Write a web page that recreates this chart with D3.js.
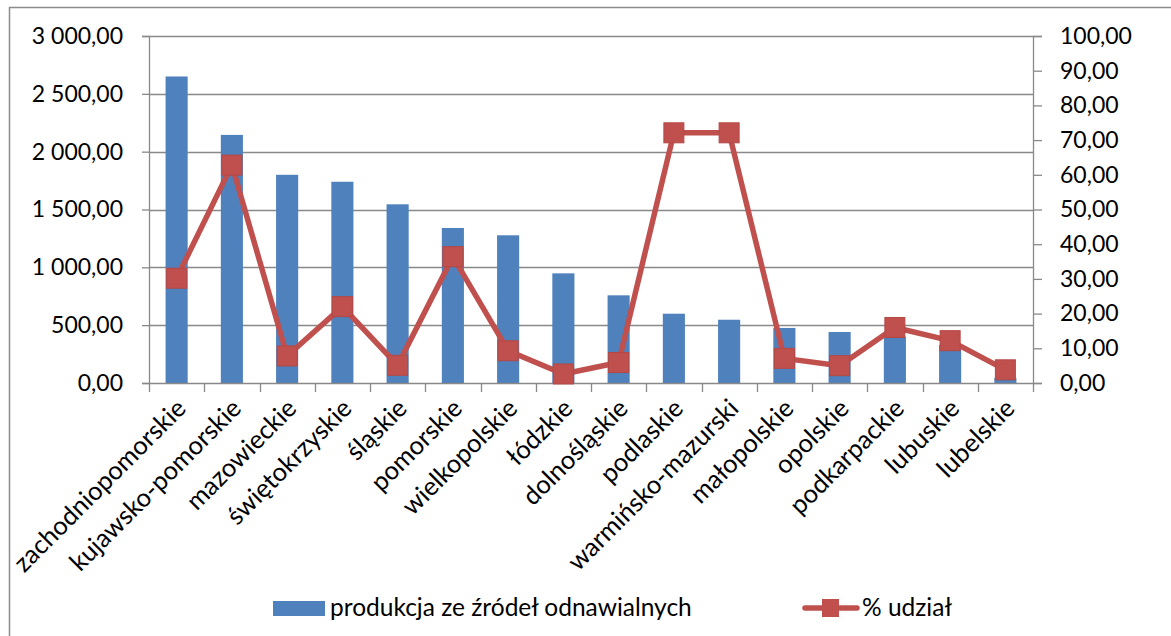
<!DOCTYPE html>
<html><head><meta charset="utf-8">
<script src="https://cdn.jsdelivr.net/npm/d3@7"></script>
<style>
html,body{margin:0;padding:0;background:#fff;}
svg{display:block;font-family:Lato,"Open Sans",sans-serif;}
</style></head><body>
<svg id="c" width="1171" height="636"></svg>
<script>
const categories = ["zachodniopomorskie","kujawsko-pomorskie","mazowieckie","świętokrzyskie","śląskie","pomorskie","wielkopolskie","łódzkie","dolnośląskie","podlaskie","warmińsko-mazurski","małopolskie","opolskie","podkarpackie","lubuskie","lubelskie"];
const production = [2650,2145,1800,1740,1545,1340,1277,948,758,599,547,476,441,400,330,45];
const share = [30.2,62.8,7.8,22.0,5.1,36.4,9.3,2.6,5.9,72.1,72.1,7.1,5.0,16.0,12.2,3.8];
const leftTicks = [0,500,1000,1500,2000,2500,3000];
const rightTicks = [0,10,20,30,40,50,60,70,80,90,100];
const seriesNames = ["produkcja ze źródeł odnawialnych","% udział"];

const svg = d3.select("#c");
const L=149, R=1033, T=36, B=383;
const BAR="#4F81BD", LINE="#C0504D", GRID="#898989";

// outer frame
svg.append("path").attr("d","M9.5,636 V7.5 H1171").attr("fill","none").attr("stroke","#8C8C8C").attr("stroke-width",1.5);

const x = d3.scaleBand().domain(categories).range([L,R]).paddingInner(0.6).paddingOuter(0.3);
const xc = d => x(d)+x.bandwidth()/2;
const y = d3.scaleLinear().domain([0,3000]).range([B,T]);
const y2 = d3.scaleLinear().domain([0,100]).range([B,T]);
const fmt = v => d3.format(",.2f")(v).replace(/,/g," ").replace(".",",");

// gridlines
svg.append("g").selectAll("line").data(leftTicks.slice(1)).join("line")
  .attr("x1",L).attr("x2",R).attr("y1",d=>Math.round(y(d))+0.5).attr("y2",d=>Math.round(y(d))+0.5)
  .attr("stroke",GRID).attr("stroke-width",1.3);

// bars
svg.append("g").selectAll("rect").data(categories).join("rect")
  .attr("x",d=>x(d)).attr("width",x.bandwidth())
  .attr("y",(d,i)=>y(production[i])).attr("height",(d,i)=>B-y(production[i]))
  .attr("fill",BAR);

// left axis
const gl = svg.append("g").attr("transform",`translate(${L},0)`)
  .call(d3.axisLeft(y).tickValues(leftTicks).tickFormat(fmt).tickSize(7).tickPadding(19));
// right axis
const gr = svg.append("g").attr("transform",`translate(${R},0)`)
  .call(d3.axisRight(y2).tickValues(rightTicks).tickFormat(fmt).tickSize(9).tickPadding(18));
// bottom axis ticks between categories
const step = (R-L)/categories.length;
const bTicks = d3.range(categories.length+1).map(i=>L+i*step);
const gb = svg.append("g");
gb.selectAll("line").data(bTicks).join("line")
  .attr("x1",d=>Math.round(d)+0.5).attr("x2",d=>Math.round(d)+0.5).attr("y1",B).attr("y2",B+9)
  .attr("stroke",GRID).attr("stroke-width",1.3);
gb.append("line").attr("x1",L).attr("x2",R).attr("y1",B+0.5).attr("y2",B+0.5).attr("stroke",GRID).attr("stroke-width",1.3);

[gl,gr].forEach(g=>{
  g.select(".domain").attr("stroke",GRID).attr("stroke-width",1.3);
  g.selectAll(".tick line").attr("stroke",GRID).attr("stroke-width",1.3);
  g.selectAll("text").attr("font-size",23).attr("fill","#000").attr("font-family","Lato");
});

// category labels
svg.append("g").selectAll("text").data(categories).join("text")
  .attr("transform",d=>`translate(${xc(d)+11},${B+27}) rotate(-45)`)
  .attr("text-anchor","end").attr("font-size",25.5).attr("fill","#000").text(d=>d);

// line
const line = d3.line().x((d,i)=>xc(categories[i])).y(d=>y2(d));
svg.append("path").datum(share).attr("d",line).attr("fill","none")
  .attr("stroke",LINE).attr("stroke-width",5.5).attr("stroke-linejoin","round");
const ms=20;
svg.append("g").selectAll("rect").data(share).join("rect")
  .attr("x",(d,i)=>xc(categories[i])-ms/2).attr("y",d=>y2(d)-ms/2)
  .attr("width",ms).attr("height",ms).attr("fill",LINE).attr("stroke","#B54744").attr("stroke-width",1);

// legend
const lg = svg.append("g");
lg.append("rect").attr("x",273).attr("y",601).attr("width",52).attr("height",15).attr("fill",BAR);
lg.append("text").attr("x",330).attr("y",616).attr("font-size",24.5).text(seriesNames[0]);
lg.append("line").attr("x1",805).attr("x2",857).attr("y1",608).attr("y2",608).attr("stroke",LINE).attr("stroke-width",5.5).attr("stroke-linecap","round");
lg.append("rect").attr("x",822).attr("y",599).attr("width",17).attr("height",18).attr("fill",LINE);
lg.append("text").attr("x",862).attr("y",616).attr("font-size",24.5).text(seriesNames[1]);
</script>
</body></html>
